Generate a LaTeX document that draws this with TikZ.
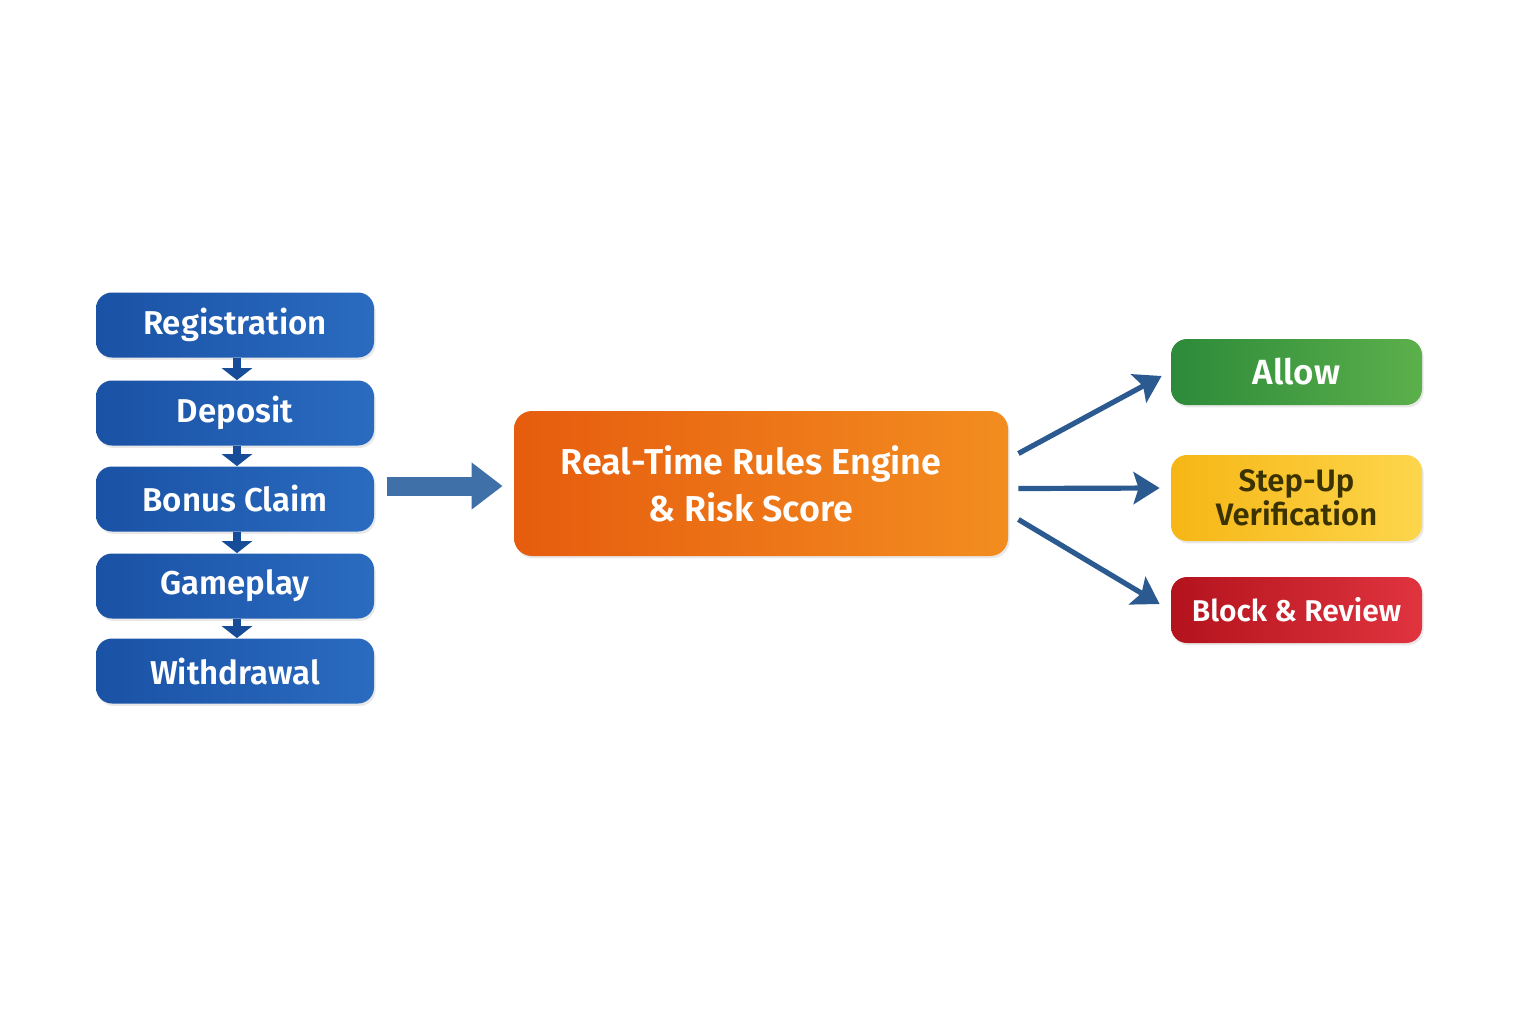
\documentclass[tikz,border=0pt]{standalone}
\usepackage{fontspec}
\setmainfont{Fira Sans}[BoldFont={Fira Sans SemiBold}]
\usetikzlibrary{arrows.meta,shadows,calc}
\definecolor{blueA}{HTML}{1A52A5}
\definecolor{blueB}{HTML}{2A6BC0}
\definecolor{orA}{HTML}{E65C0E}
\definecolor{orB}{HTML}{F38D20}
\definecolor{grA}{HTML}{2C8A39}
\definecolor{grB}{HTML}{5CB04B}
\definecolor{yeA}{HTML}{F6B615}
\definecolor{yeB}{HTML}{FDD64C}
\definecolor{reA}{HTML}{B3131D}
\definecolor{reB}{HTML}{E0343F}
\definecolor{arrowblue}{HTML}{2B5A90}
\definecolor{darkblue}{HTML}{164C98}
\definecolor{bigA}{HTML}{4D7FB8}
\definecolor{yetext}{HTML}{3A3200}
\tikzset{
  basebox/.style={rounded corners=8pt, inner sep=0pt, align=center,
    font=\bfseries, drop shadow={opacity=0.18, shadow xshift=0.8pt, shadow yshift=-1.2pt}},
  bluebox/.style={basebox, minimum width=139pt, minimum height=32.5pt,
    left color=blueA, right color=blueB, text=white, font=\bfseries\fontsize{16.5}{18}\selectfont},
  enginebox/.style={basebox, rounded corners=9pt, minimum width=247pt, minimum height=72.5pt,
    left color=orA, right color=orB, text=white, font=\bfseries\fontsize{18}{23.5}\selectfont},
  outbox/.style={basebox, minimum width=125.5pt, text=white, font=\bfseries\fontsize{15}{17}\selectfont},
  smallarrow/.style={draw=darkblue, line width=4pt, -{Triangle[length=6pt,width=15pt]}},
  bigarrow/.style={draw=bigA!60!arrowblue, line width=9.5pt, -{Triangle[length=15.5pt,width=22.5pt]}},
  outarrow/.style={draw=arrowblue, line width=2.6pt, -{Stealth[length=13pt,width=16pt,inset=2.5pt]}}
}
\begin{document}
\begin{tikzpicture}[x=0.5pt,y=-0.5pt]
\useasboundingbox[fill=white] (0,0) rectangle (1536,1024);
% left column
\node[bluebox] (reg) at (235,325) {Registration};
\node[bluebox] (dep) at (235,413) {Deposit};
\node[bluebox] (bon) at (235,499) {Bonus Claim};
\node[bluebox] (gam) at (235,586) {Gameplay};
\node[bluebox] (wit) at (235,671) {Withdrawal};
\draw[smallarrow] ([xshift=1pt]reg.south) -- ([xshift=1pt]dep.north);
\draw[smallarrow] ([xshift=1pt]dep.south) -- ([xshift=1pt]bon.north);
\draw[smallarrow] ([xshift=1pt]bon.south) -- ([xshift=1pt]gam.north);
\draw[smallarrow] ([xshift=1pt]gam.south) -- ([xshift=1pt]wit.north);
% engine
\node[enginebox] (eng) at (761,483.5) {Real-Time Rules Engine\hspace*{10pt}\\\& Risk Score\hspace*{10pt}};
\coordinate (bigstart) at ($(bon.east)+(13,-13)$);
\coordinate (bigend) at ($(bigstart -| eng.west)+(-11,0)$);
\draw[bigarrow] (bigstart) -- (bigend);
% outcomes
\node[outbox, minimum height=33pt, left color=grA, right color=grB,
  font=\bfseries\fontsize{17.5}{19}\selectfont] (allow) at (1296.5,372) {Allow};
\node[outbox, minimum height=43pt, left color=yeA, right color=yeB, text=yetext,
  font=\bfseries\fontsize{15.5}{17}\selectfont] (step) at (1296.5,498) {Step-Up\\Verification};
\node[outbox, minimum height=33pt, left color=reA, right color=reB] (block) at (1296.5,610) {Block \& Review};
\coordinate (s1) at ($(eng.east)+(10,-30)$);
\coordinate (s2) at ($(eng.east)+(10,5)$);
\coordinate (s3) at ($(eng.east)+(10,36)$);
\coordinate (e1) at ($(allow.west)+(-9,4)$);
\coordinate (e2) at ($(step.west)+(-11,-10)$);
\coordinate (e3) at ($(block.west)+(-11,-6)$);
\draw[outarrow] (s1) -- (e1);
\draw[outarrow] (s2) -- (e2);
\draw[outarrow] (s3) -- (e3);
\end{tikzpicture}
\end{document}
